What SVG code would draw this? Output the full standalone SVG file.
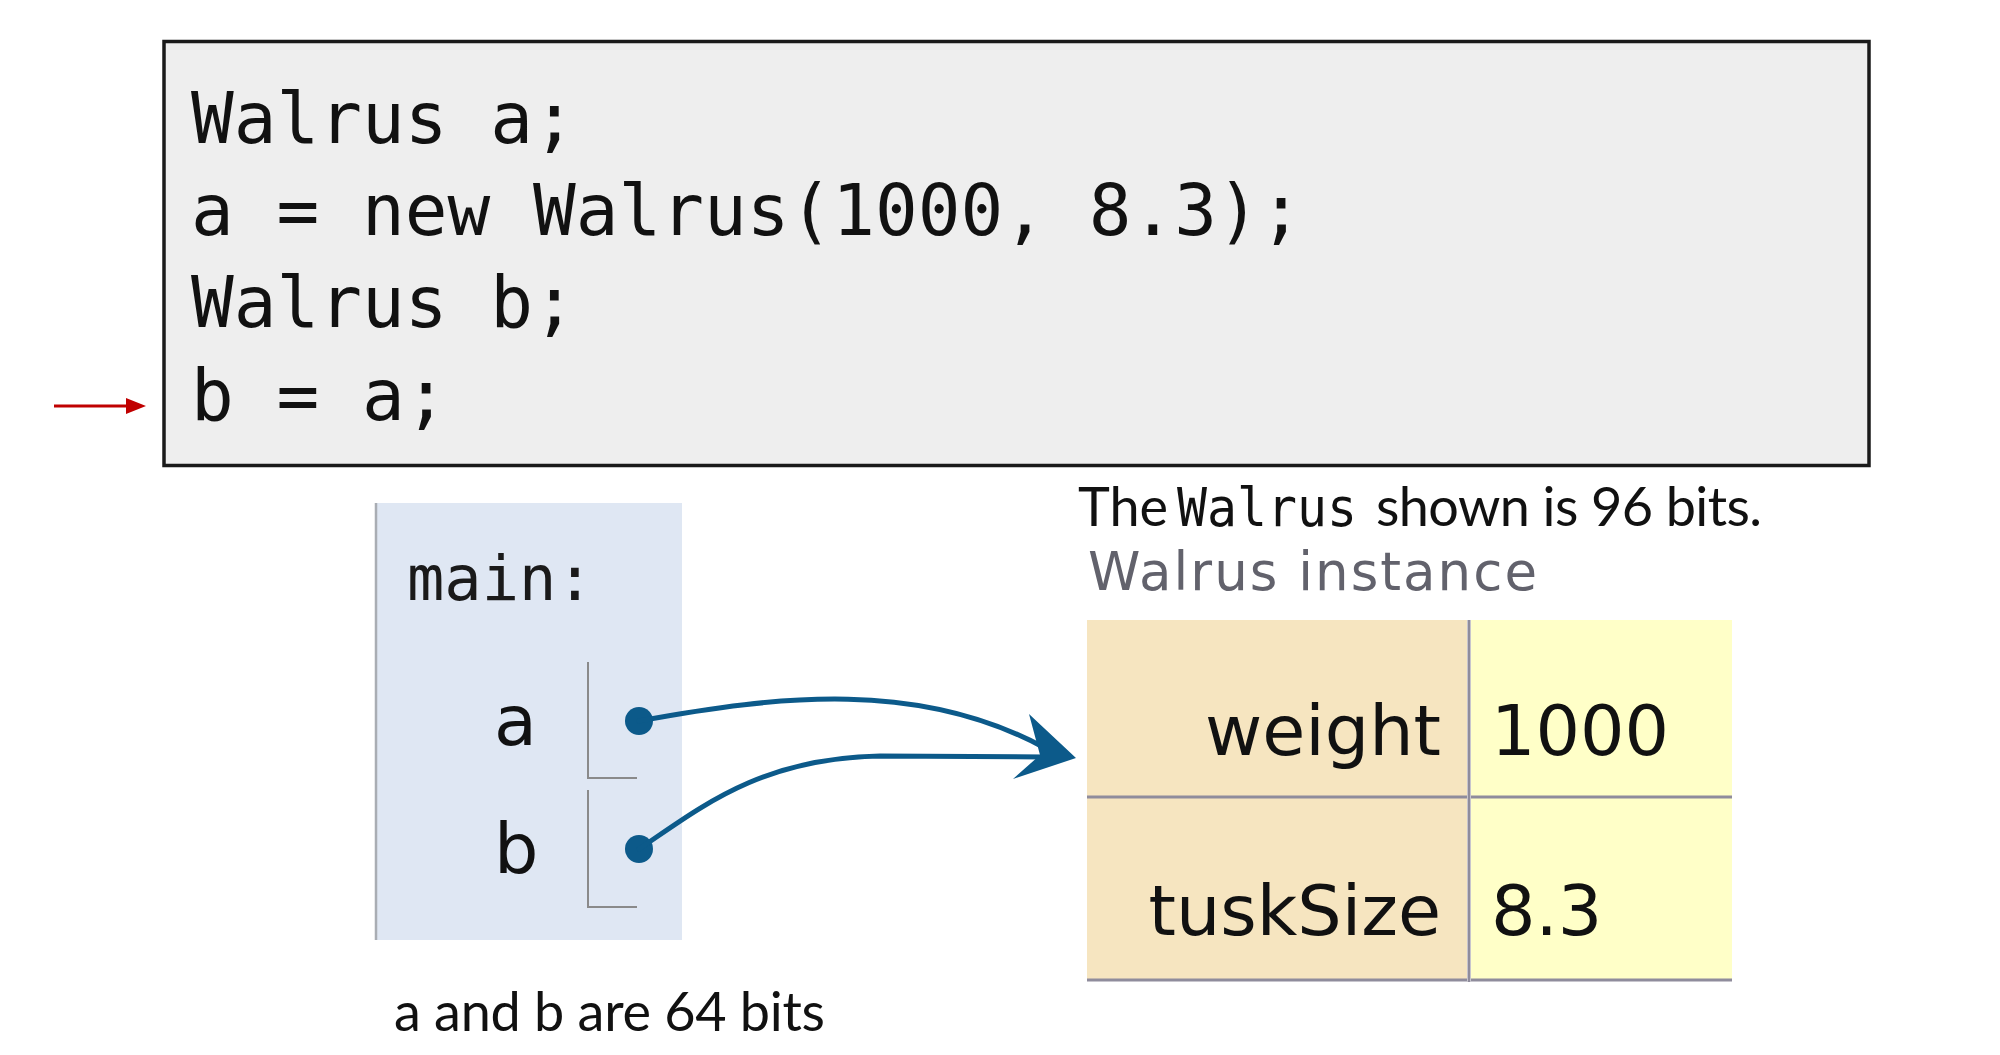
<svg xmlns="http://www.w3.org/2000/svg" width="2000" height="1055" viewBox="0 0 2000 1055">
  <style>
    .code { font-family: "DejaVu Sans Mono", "Liberation Mono", monospace; font-size: 71px; fill: #111; }
    .mono { font-family: "DejaVu Sans Mono", "Liberation Mono", monospace; }
    .note { font-family: Lato, "Liberation Sans", sans-serif; font-size: 54px; fill: #111; }
    .viz { font-family: "DejaVu Sans", Verdana, sans-serif; }
    .field { font-size: 70px; text-anchor: end; fill: #111; }
    .val { font-size: 70px; fill: #111; }
    .slot { fill: none; stroke: #8a8a8a; stroke-width: 2; }
    .rule { stroke: #8f8c9c; stroke-width: 3; }
    .ref { fill: none; stroke: #0c5a8a; stroke-width: 5; stroke-linecap: round; }
    .dot { fill: #0c5a8a; }
  </style>

  <g id="code-box">
    <rect x="164" y="41.5" width="1705" height="424" fill="#eeeeee" stroke="#1a1a1a" stroke-width="3.5"/>
    <text class="code" x="191" y="143">Walrus a;</text>
    <text class="code" x="191" y="235">a = new Walrus(1000, 8.3);</text>
    <text class="code" x="191" y="327">Walrus b;</text>
    <text class="code" x="191" y="420">b = a;</text>
  </g>

  <g id="current-line-marker">
    <line x1="54" y1="406" x2="130" y2="406" stroke="#c00000" stroke-width="3"/>
    <polygon points="126,398 146,406 126,414" fill="#c00000"/>
  </g>

  <g id="main-frame">
    <rect x="375" y="503" width="307" height="437" fill="#dfe7f3"/>
    <line x1="376" y1="503" x2="376" y2="940" stroke="#a9adb3" stroke-width="2.5"/>
    <text class="mono" x="407" y="600" font-size="62" fill="#1a1a1a">main:</text>
  </g>

  <g id="var-a">
    <text class="viz" x="494" y="745" font-size="70" fill="#111">a</text>
    <polyline class="slot" points="588,662 588,778 637,778"/>
  </g>

  <g id="var-b">
    <text class="viz" x="494" y="873" font-size="70" fill="#111">b</text>
    <polyline class="slot" points="588,790 588,907 637,907"/>
  </g>

  <g id="walrus-caption">
    <text class="note" x="1078" y="526" textLength="90">The</text>
    <text class="mono" x="1177" y="526" font-size="53" fill="#111" textLength="180" lengthAdjust="spacingAndGlyphs">Walrus</text>
    <text class="note" x="1376" y="526" textLength="386">shown is 96 bits.</text>
  </g>

  <g id="walrus-instance">
    <text class="viz" x="1088" y="590" font-size="53" fill="#62626c" textLength="449">Walrus instance</text>
    <rect x="1087" y="620" width="380" height="360" fill="#f6e5c0"/>
    <rect x="1471" y="620" width="261" height="360" fill="#ffffc8"/>
    <line class="rule" x1="1469" y1="620" x2="1469" y2="982" stroke-width="2"/>
    <line class="rule" x1="1087" y1="797" x2="1467" y2="797"/>
    <line class="rule" x1="1471" y1="797" x2="1732" y2="797"/>
    <line class="rule" x1="1087" y1="980" x2="1467" y2="980"/>
    <line class="rule" x1="1471" y1="980" x2="1732" y2="980"/>
    <text class="viz field" x="1441" y="755">weight</text>
    <text class="viz val" x="1491" y="755">1000</text>
    <text class="viz field" x="1441" y="935">tuskSize</text>
    <text class="viz val" x="1491" y="935">8.3</text>
  </g>

  <g id="size-note">
    <text class="note" x="394" y="1031" textLength="431">a and b are 64 bits</text>
  </g>

  <g id="connectors">
    <circle class="dot" cx="639" cy="721" r="14"/>
    <circle class="dot" cx="639" cy="849" r="14"/>
    <path class="ref" d="M639,721 C780,695 920,680 1045,748"/>
    <path class="ref" d="M639,849 C700,808 760,758 880,756 L1045,757"/>
    <polygon class="dot" points="1076,758 1029,714 1040,755 1013,779"/>
  </g>
</svg>
